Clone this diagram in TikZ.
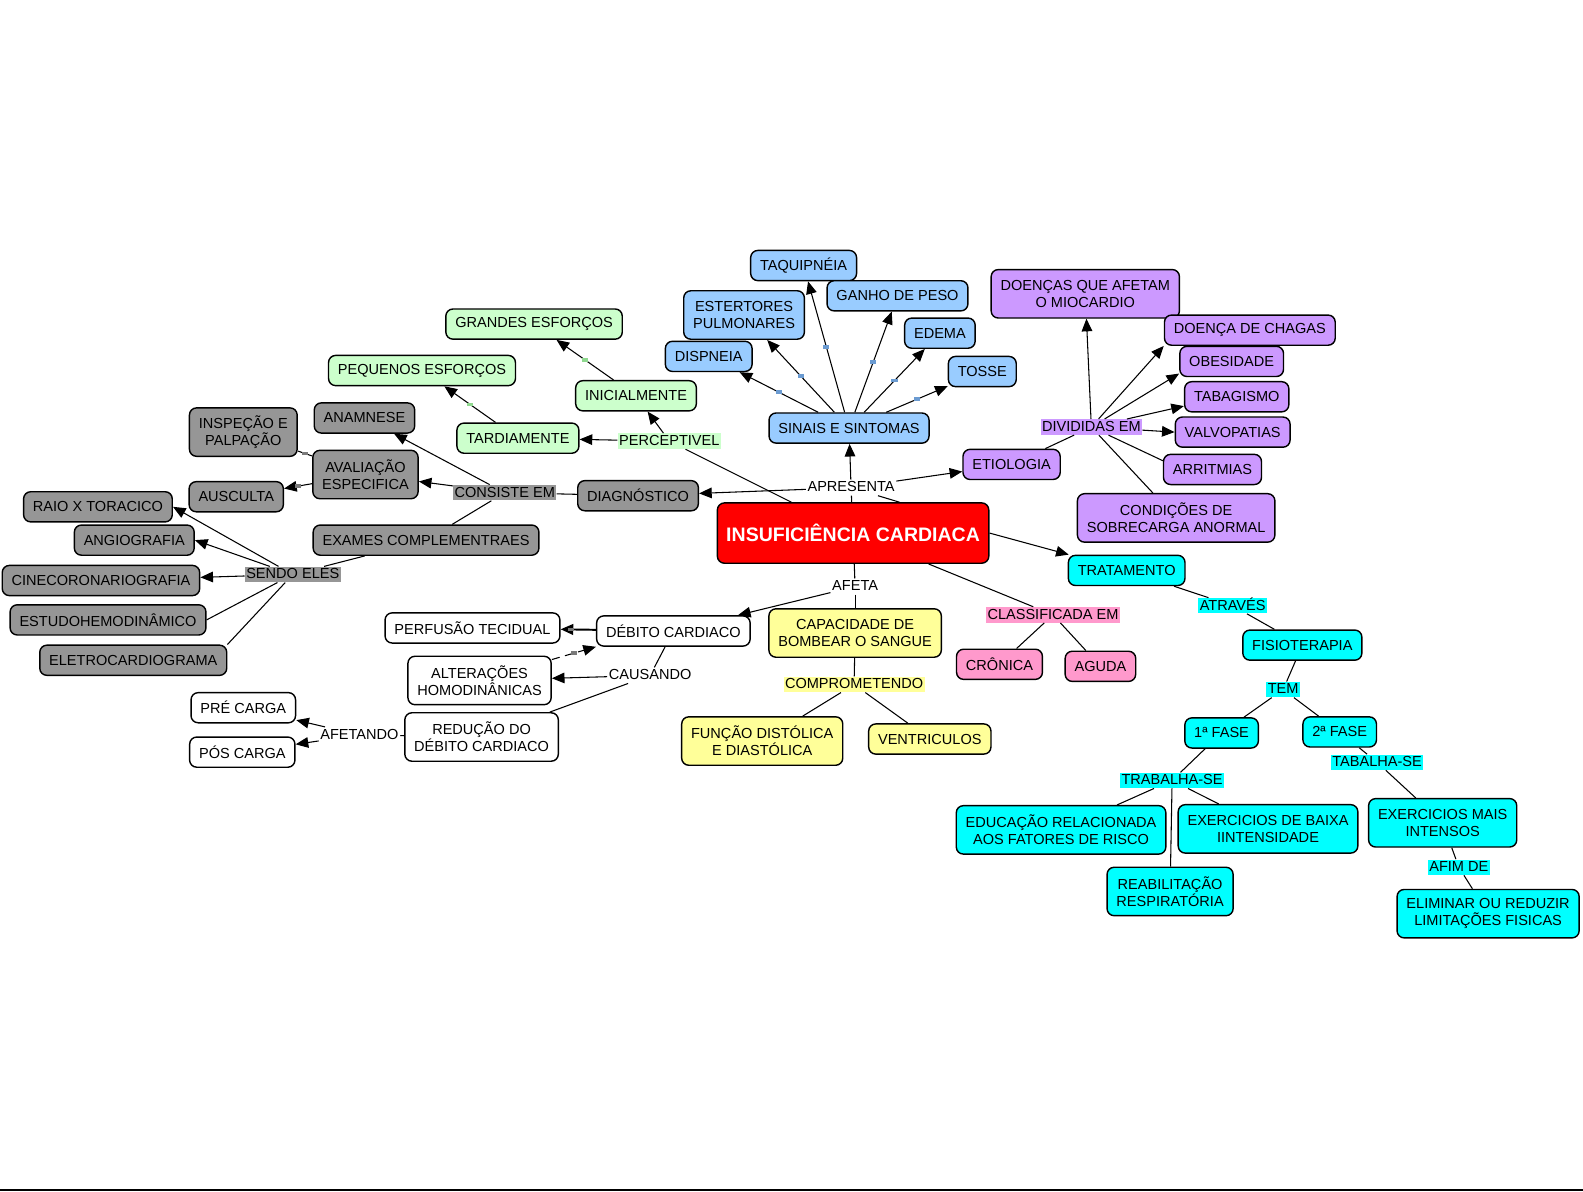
\documentclass[tikz,border=0pt]{standalone}
\usepackage{fontspec}
\setmainfont{Liberation Sans}
\usetikzlibrary{arrows.meta,calc}
\definecolor{ink}{HTML}{000000}
\definecolor{core}{HTML}{FF0000}
\definecolor{sinal}{HTML}{99CCFF}
\definecolor{sinalmk}{HTML}{6B9BD1}
\definecolor{percep}{HTML}{CCFFCC}
\definecolor{percepmk}{HTML}{8FD88F}
\definecolor{diagn}{HTML}{969696}
\definecolor{diagnmk}{HTML}{7A7A7A}
\definecolor{bomba}{HTML}{FFFF99}
\definecolor{etio}{HTML}{CC99FF}
\definecolor{clas}{HTML}{FF99CC}
\definecolor{trata}{HTML}{00FFFF}
\newcommand{\mapfont}{\fontsize{8.2}{9.6}\selectfont}

\begin{document}
\begin{tikzpicture}[x=0.2mm,y=-0.2mm,
  cpt/.style={draw=ink, line width=0.8pt, rounded corners=4pt, font=\mapfont, align=center,
              inner xsep=5.3pt, inner ysep=3pt, minimum height=17pt},
  tall/.style={minimum height=27.3pt},
  lbl/.style={font=\mapfont, inner xsep=0.8pt, inner ysep=0.5pt, text height=6.3pt, text depth=1.4pt},
  arr/.style={-{Triangle[length=2.5mm,width=2.1mm]}, ink, line width=0.6pt},
  ln/.style={ink, line width=0.6pt},
  blip/.style={inner sep=0pt, minimum width=1.2mm, minimum height=0.7mm}]

\useasboundingbox (0,0) rectangle (1568,1180);

% centro
\node[cpt, fill=core, text=white, font=\fontsize{11}{13}\selectfont\bfseries,
      minimum width=153pt, minimum height=34pt, inner xsep=4pt] (ic) at (845,528) {INSUFICIÊNCIA CARDIACA};
\node[lbl] (apr) at (843,483) {APRESENTA};
\node[lbl] (afeta) at (847,581) {AFETA};

% 1. Sinais e sintomas
\node[cpt, fill=sinal] (ss) at (841,424) {SINAIS E SINTOMAS};
\node[cpt, fill=sinal] (dis) at (702,353) {DISPNEIA};
\node[cpt, fill=sinal, tall] (est) at (737,312) {ESTERTORES\\PULMONARES};
\node[cpt, fill=sinal] (taq) at (796,263) {TAQUIPNÉIA};
\node[cpt, fill=sinal] (gan) at (889,293) {GANHO DE PESO};
\node[cpt, fill=sinal] (ede) at (931,330) {EDEMA};
\node[cpt, fill=sinal] (tos) at (973,368) {TOSSE};

% 2. Percepcao
\node[cpt, fill=percep] (gra) at (529,321) {GRANDES ESFORÇOS};
\node[cpt, fill=percep] (peq) at (418,367) {PEQUENOS ESFORÇOS};
\node[cpt, fill=percep] (ini) at (630,392) {INICIALMENTE};
\node[cpt, fill=percep] (tard) at (513,434) {TARDIAMENTE};
\node[lbl, fill=percep] (perc) at (663,437) {PERCEPTIVEL};

% 3. Diagnostico
\node[cpt, fill=diagn] (diag) at (632,491) {DIAGNÓSTICO};
\node[lbl, fill=diagn] (cons) at (500,488) {CONSISTE EM};
\node[cpt, fill=diagn] (ana) at (361,414) {ANAMNESE};
\node[cpt, fill=diagn, tall] (insp) at (241,428) {INSPEÇÃO E\\PALPAÇÃO};
\node[cpt, fill=diagn, tall] (aval) at (362,470) {AVALIAÇÃO\\ESPECIFICA};
\node[cpt, fill=diagn] (aus) at (234,492) {AUSCULTA};
\node[cpt, fill=diagn] (exa) at (422,535) {EXAMES COMPLEMENTRAES};
\node[lbl, fill=diagn] (sendo) at (290,569) {SENDO ELES};
\node[cpt, fill=diagn] (rx) at (97,502) {RAIO X TORACICO};
\node[cpt, fill=diagn] (ang) at (133,535) {ANGIOGRAFIA};
\node[cpt, fill=diagn] (cine) at (100,575) {CINECORONARIOGRAFIA};
\node[cpt, fill=diagn] (estu) at (107,614) {ESTUDOHEMODINÂMICO};
\node[cpt, fill=diagn] (ele) at (132,654) {ELETROCARDIOGRAMA};

% 4. Debito cardiaco
\node[cpt, fill=white] (perf) at (468,622) {PERFUSÃO TECIDUAL};
\node[cpt, fill=white] (deb) at (667,625) {DÉBITO CARDIACO};
\node[cpt, fill=white, tall] (alt) at (475,674) {ALTERAÇÕES\\HOMODINÂNICAS};
\node[lbl] (caus) at (644,669) {CAUSANDO};
\node[cpt, fill=white, tall] (red) at (477,730) {REDUÇÃO DO\\DÉBITO CARDIACO};
\node[lbl] (afet) at (356,728) {AFETANDO};
\node[cpt, fill=white] (pre) at (241,701) {PRÉ CARGA};
\node[cpt, fill=white] (pos) at (240,745) {PÓS CARGA};

% 5. Capacidade
\node[cpt, fill=bomba, tall] (cap) at (847,627) {CAPACIDADE DE\\BOMBEAR O SANGUE};
\node[lbl, fill=bomba] (comp) at (846,678) {COMPROMETENDO};
\node[cpt, fill=bomba, tall] (fun) at (755,734) {FUNÇÃO DISTÓLICA\\E DIASTÓLICA};
\node[cpt, fill=bomba] (ven) at (921,732) {VENTRICULOS};

% 6. Etiologia
\node[cpt, fill=etio] (eti) at (1002,460) {ETIOLOGIA};
\node[lbl, fill=etio] (div) at (1081,423) {DIVIDIDAS EM};
\node[cpt, fill=etio, tall] (dam) at (1075,291) {DOENÇAS QUE AFETAM\\O MIOCARDIO};
\node[cpt, fill=etio] (cha) at (1238,327) {DOENÇA DE CHAGAS};
\node[cpt, fill=etio] (obe) at (1220,358) {OBESIDADE};
\node[cpt, fill=etio] (tab) at (1225,393) {TABAGISMO};
\node[cpt, fill=etio] (val) at (1221,428) {VALVOPATIAS};
\node[cpt, fill=etio] (arri) at (1201,465) {ARRITMIAS};
\node[cpt, fill=etio, tall] (cond) at (1165,513) {CONDIÇÕES DE\\SOBRECARGA ANORMAL};

% 7. Classificacao
\node[lbl, fill=clas] (cla) at (1043,609) {CLASSIFICADA EM};
\node[cpt, fill=clas] (cro) at (990,658) {CRÔNICA};
\node[cpt, fill=clas] (agu) at (1090,660) {AGUDA};

% 8. Tratamento
\node[cpt, fill=trata] (trat) at (1116,565) {TRATAMENTO};
\node[lbl, fill=trata] (atr) at (1221,600) {ATRAVÉS};
\node[cpt, fill=trata] (fis) at (1290,639) {FISIOTERAPIA};
\node[lbl, fill=trata] (tem) at (1271,683) {TEM};
\node[cpt, fill=trata] (f1) at (1210,726) {1ª FASE};
\node[cpt, fill=trata] (f2) at (1327,725) {2ª FASE};
\node[lbl, fill=trata] (trab) at (1161,773) {TRABALHA-SE};
\node[lbl, fill=trata] (tabl) at (1364,755) {TABALHA-SE};
\node[cpt, fill=trata, tall] (edu) at (1051,822) {EDUCAÇÃO RELACIONADA\\AOS FATORES DE RISCO};
\node[cpt, fill=trata, tall] (exb) at (1256,821) {EXERCICIOS DE BAIXA\\IINTENSIDADE};
\node[cpt, fill=trata, tall] (rea) at (1159,883) {REABILITAÇÃO\\RESPIRATÓRIA};
\node[cpt, fill=trata, tall] (exm) at (1429,815) {EXERCICIOS MAIS\\INTENSOS};
\node[lbl, fill=trata] (afim) at (1445,859) {AFIM DE};
\node[cpt, fill=trata, tall] (eli) at (1474,905) {ELIMINAR OU REDUZIR\\LIMITAÇÕES FISICAS};

% ligacoes
\draw[ln] (ic) -- (apr);
\draw[ln] (apr) -- ($(ic.north)+(46,0)$);
\draw[arr] (apr) -- (ss);
\draw[arr] (apr) -- (diag);
\draw[arr] (apr) -- (eti);
\foreach \t in {dis,est,taq,gan,ede,tos}
  \draw[arr] (ss) -- node[blip, fill=sinalmk] (mk-\t) {} (\t);

\draw[ln] (ic) -- (perc);
\draw[arr] (perc) -- (ini);
\draw[arr] (perc) -- (tard);
\draw[arr] (ini) -- node[blip, fill=percepmk] (mk-gra) {} (gra);
\draw[arr] (tard) -- node[blip, fill=percepmk] (mk-peq) {} (peq);

\draw[ln] (diag) -- (cons);
\draw[arr] (cons) -- (aval);
\draw[arr] (cons) -- (ana);
\draw[ln] (cons) -- (exa);
\draw[ln] (aval) -- node[blip, fill=diagnmk] (mk-insp) {} (insp);
\draw[arr] (aval) -- node[blip, fill=diagnmk] (mk-aus) {} (aus);
\draw[ln] (exa) -- (sendo);
\draw[arr] (sendo) -- (rx.east);
\draw[arr] (sendo) -- (ang.east);
\draw[arr] (sendo) -- (cine);
\draw[ln] (sendo) -- (estu.east);
\draw[ln] (sendo) -- (ele.north east);

\draw[ln] (ic) -- (afeta);
\draw[arr] (afeta) -- (deb);
\draw[ln] (afeta) -- (cap);
\draw[arr, line width=1.1pt] (deb) -- node[pos=0.7, blip, fill=diagnmk] (mk-perf) {} (perf);
\draw[arr, dash pattern=on 1.6mm off 1.1mm] (alt) -- node[blip, fill=diagnmk] (mk-alt) {} (deb.south west);
\draw[ln] (deb) -- (caus);
\draw[arr] (caus) -- (alt);
\draw[ln] (caus) -- (red);
\draw[ln] (red) -- (afet);
\draw[arr] (afet) -- (pre);
\draw[arr] (afet) -- (pos);

\draw[ln] (cap) -- (comp);
\draw[ln] (comp) -- (fun);
\draw[ln] (comp) -- (ven);

\draw[ln] (eti) -- (div);
\draw[arr] (div) -- (dam);
\draw[arr] (div) -- (cha.south west);
\draw[arr] (div) -- (obe.193);
\draw[arr] (div) -- (tab.190);
\draw[arr] (div) -- (val.west);
\draw[ln] (div) -- (arri.170);
\draw[ln] (div) -- (cond);

\draw[ln] (ic) -- (cla);
\draw[ln] (cla) -- (cro);
\draw[ln] (cla) -- (agu);

\draw[arr] (ic.east) -- (trat);
\draw[ln] (trat) -- (atr);
\draw[ln] (atr) -- (fis);
\draw[ln] (fis) -- (tem);
\draw[ln] (tem) -- (f1);
\draw[ln] (tem) -- (f2);
\draw[ln] (f1) -- (trab);
\draw[ln] (trab) -- (edu);
\draw[ln] (trab) -- (exb);
\draw[ln] (trab) -- (rea);
\draw[ln] (f2) -- (tabl);
\draw[ln] (tabl) -- (exm);
\draw[ln] (exm) -- (afim);
\draw[ln] (afim) -- (eli);

\draw[line width=1.1pt] (0,1178.5) -- (1568,1178.5);

\end{tikzpicture}
\end{document}
